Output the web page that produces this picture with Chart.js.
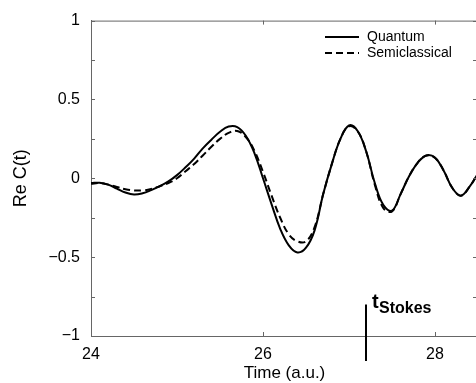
<!DOCTYPE html>
<html>
<head>
<meta charset="utf-8">
<script src="https://cdn.jsdelivr.net/npm/chart.js@4"></script>
<style>
  html, body { margin: 0; padding: 0; background: #fff; overflow: hidden; }
  #wrap { width: 480px; height: 383px; }
</style>
</head>
<body>
<div id="wrap"><canvas id="chart"></canvas></div>
<script>
// time axis (a.u.)
const times = [
  24.0, 24.1, 24.2, 24.3, 24.4, 24.5, 24.6, 24.7, 24.8, 24.9,
  25.0, 25.1, 25.2, 25.3, 25.4, 25.5, 25.6, 25.7, 25.8, 25.9,
  26.0, 26.1, 26.2, 26.3, 26.4, 26.5, 26.6, 26.7, 26.8, 26.9,
  27.0, 27.1, 27.2, 27.3, 27.4, 27.5, 27.6, 27.7, 27.8, 27.9,
  28.0, 28.1, 28.2, 28.3, 28.4, 28.5
];

// Re C(t), quantum result
const quantum = [
  -0.030, -0.028, -0.040, -0.065, -0.090, -0.103, -0.095, -0.075, -0.050, -0.020,
   0.020,  0.070,  0.125,  0.190,  0.245,  0.295,  0.328,  0.325,  0.270,  0.160,
   0.000, -0.165, -0.320, -0.425, -0.470, -0.440, -0.330, -0.100,  0.090,  0.250,
   0.335,  0.300,  0.170, -0.030, -0.170, -0.205, -0.100,  0.015,  0.100,  0.145,
   0.130,  0.050, -0.060, -0.110, -0.055,  0.030
];

// Re C(t), semiclassical result
const semiclassical = [
  -0.035, -0.030, -0.040, -0.055, -0.070, -0.077, -0.077, -0.068, -0.050, -0.030,
   0.000,  0.045,  0.090,  0.145,  0.200,  0.250,  0.288,  0.300,  0.262,  0.175,
   0.040, -0.110, -0.250, -0.355, -0.400, -0.400, -0.310, -0.100,  0.090,  0.250,
   0.330,  0.300,  0.170, -0.040, -0.190, -0.210, -0.100,  0.015,  0.100,  0.145,
   0.130,  0.050, -0.060, -0.110, -0.055,  0.030
];

const seriesNames = ['Quantum', 'Semiclassical'];
const xLimits = [24, 28.5];
const yLimits = [-1, 1];
const stokesTime = 27.2;
const stokesTop = -0.8;

const axisColor = '#666';
const FONT = 'Liberation Sans, Arial, Helvetica, sans-serif';

function fmt(v) {
  const s = String(Math.round(v * 100) / 100);
  return s.replace('-', '\u2212');
}

// inward tick marks, box, legend and the t_Stokes marker
const decorations = {
  id: 'decorations',
  afterDraw(chart) {
    const { ctx, chartArea: a, scales: { x, y } } = chart;
    ctx.save();
    ctx.strokeStyle = axisColor;
    ctx.lineWidth = 1;
    ctx.beginPath();
    // top and right border
    ctx.moveTo(a.left, a.top + 0.5);
    ctx.lineTo(a.right, a.top + 0.5);
    ctx.moveTo(a.right - 0.5, a.top);
    ctx.lineTo(a.right - 0.5, a.bottom);
    y.ticks.forEach(t => {
      const py = Math.round(y.getPixelForValue(t.value)) + 0.5;
      ctx.moveTo(a.left, py); ctx.lineTo(a.left + 4, py);
      ctx.moveTo(a.right, py); ctx.lineTo(a.right - 5, py);
    });
    x.ticks.forEach(t => {
      const px = Math.round(x.getPixelForValue(t.value)) + 0.5;
      ctx.moveTo(px, a.bottom); ctx.lineTo(px, a.bottom - 4);
      ctx.moveTo(px, a.top); ctx.lineTo(px, a.top + 4);
    });
    ctx.stroke();

    // legend
    const lx = 325, ly = 37;
    chart.data.datasets.forEach((ds, i) => {
      const yy = ly + i * 16;
      ctx.strokeStyle = '#000';
      ctx.lineWidth = 2;
      ctx.setLineDash(ds.borderDash || []);
      ctx.beginPath();
      ctx.moveTo(lx, yy); ctx.lineTo(lx + 34, yy);
      ctx.stroke();
      ctx.setLineDash([]);
      ctx.fillStyle = '#000';
      ctx.font = '14px ' + FONT;
      ctx.textBaseline = 'middle';
      ctx.fillText(ds.label, lx + 42, yy);
    });

    // t_Stokes marker
    const sx = Math.round(x.getPixelForValue(stokesTime));
    ctx.strokeStyle = '#000';
    ctx.lineWidth = 2;
    ctx.beginPath();
    ctx.moveTo(sx, y.getPixelForValue(stokesTop));
    ctx.lineTo(sx, a.bottom + 25);
    ctx.stroke();
    ctx.fillStyle = '#000';
    ctx.textBaseline = 'alphabetic';
    ctx.font = 'bold 20px ' + FONT;
    ctx.fillText('t', sx + 6, y.getPixelForValue(stokesTop) + 4);
    ctx.font = 'bold 16px ' + FONT;
    ctx.fillText('Stokes', sx + 13, y.getPixelForValue(stokesTop) + 9);
    ctx.restore();
  }
};

new Chart(document.getElementById('chart'), {
  type: 'line',
  data: {
    labels: times,
    datasets: [
      {
        label: seriesNames[0],
        data: times.map((t, i) => ({ x: t, y: quantum[i] })),
        borderColor: '#000',
        borderWidth: 2,
        pointRadius: 0,
        tension: 0.4,
        fill: false
      },
      {
        label: seriesNames[1],
        data: times.map((t, i) => ({ x: t, y: semiclassical[i] })),
        borderColor: '#000',
        borderWidth: 2,
        borderDash: [7, 4],
        pointRadius: 0,
        tension: 0.4,
        fill: false
      }
    ]
  },
  options: {
    responsive: true,
    maintainAspectRatio: false,
    animation: false,
    layout: { padding: { top: 16, right: 2, left: 0, bottom: 0 } },
    plugins: { legend: { display: false }, tooltip: { enabled: false } },
    scales: {
      x: {
        type: 'linear',
        min: xLimits[0],
        max: xLimits[1],
        grid: { display: false, drawTicks: false },
        border: { display: true, color: axisColor, width: 1 },
        ticks: {
          stepSize: 2,
          includeBounds: false,
          padding: 9,
          color: '#000',
          font: { family: FONT, size: 16 },
          maxRotation: 0,
          callback: v => fmt(v)
        },
        title: {
          display: true,
          text: 'Time (a.u.)',
          color: '#000',
          font: { family: FONT, size: 17 },
          padding: { top: 0, bottom: -1 }
        },
        afterFit: s => { s.height = 47; }
      },
      y: {
        min: yLimits[0],
        max: yLimits[1],
        grid: { display: false, drawTicks: false },
        border: { display: true, color: axisColor, width: 1 },
        ticks: {
          stepSize: 0.25,
          padding: 11,
          color: '#000',
          font: { family: FONT, size: 16 },
          callback: v => (Math.abs(v * 2 - Math.round(v * 2)) < 1e-6 ? fmt(v) : '')
        },
        title: {
          display: true,
          text: 'Re C(t)',
          color: '#000',
          font: { family: FONT, size: 18 },
          padding: { top: 10, bottom: 0 }
        },
        afterFit: s => { s.width = 91; }
      }
    }
  },
  plugins: [decorations]
});
</script>
</body>
</html>
